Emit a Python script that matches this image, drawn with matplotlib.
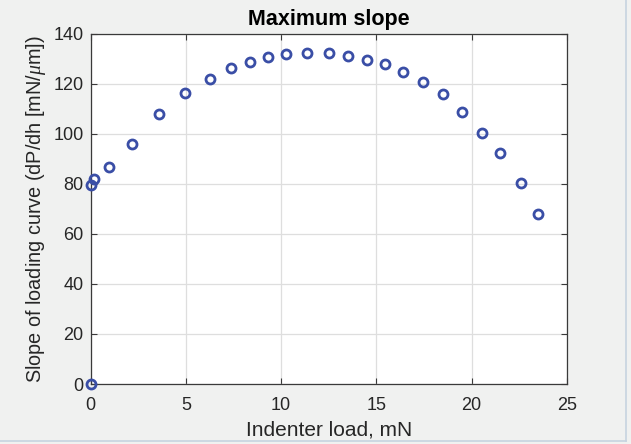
import matplotlib
matplotlib.use("Agg")
import matplotlib.pyplot as plt
from matplotlib.lines import Line2D

plt.rcParams['font.family'] = ['Liberation Sans', 'DejaVu Sans']
plt.rcParams['mathtext.fontset'] = 'custom'
plt.rcParams['mathtext.it'] = 'Liberation Serif:italic'

# Indenter load (mN) and maximum slope of the loading curve (mN/um)
load_mN = [0.0, 0.0, 0.15, 0.96, 2.15, 3.57, 4.96, 6.27, 7.37, 8.36, 9.32,
           10.28, 11.36, 12.51, 13.49, 14.52, 15.47, 16.41, 17.43, 18.50,
           19.51, 20.54, 21.50, 22.57, 23.51]
slope = [0.0, 79.3, 81.7, 86.5, 96.0, 108.0, 116.3, 121.9, 126.4, 128.7,
         130.5, 131.7, 132.1, 132.1, 131.1, 129.5, 127.7, 124.5, 120.6,
         116.0, 108.7, 100.4, 92.3, 80.4, 67.8]

x_ticks = [0, 5, 10, 15, 20, 25]
y_ticks = [0, 20, 40, 60, 80, 100, 120, 140]

bg = '#f0f1f0'
text_c = '#262626'
marker_c = '#3a4ea6'

fig = plt.figure(figsize=(6.31, 4.44), dpi=100, facecolor=bg)
ax = fig.add_axes([0.1437, 0.1351, 0.7546, 0.7894])
ax.set_facecolor('white')

ax.plot(load_mN, slope, linestyle='none', marker='o', markersize=6.5,
        markerfacecolor='none', markeredgecolor=marker_c, markeredgewidth=2.0,
        clip_on=False, zorder=5)

ax.set_xlim(0, 25)
ax.set_ylim(0, 140)
ax.set_xticks(x_ticks)
ax.set_yticks(y_ticks)
ax.grid(True, color='#dedede', linewidth=0.9)
ax.set_axisbelow(True)

for s in ax.spines.values():
    s.set_color('#3a3a3a')
    s.set_linewidth(0.9)

ax.tick_params(direction='in', length=4, width=0.8, color='#3a3a3a',
               top=True, right=True, labelsize=13, labelcolor=text_c)
ax.tick_params(axis='x', pad=9)
ax.tick_params(axis='y', pad=5)

ax.set_title('Maximum slope', fontsize=15.5, fontweight='bold', color='black', pad=6)
ax.set_xlabel('Indenter load, mN', fontsize=15, color=text_c, labelpad=5)
ax.set_ylabel(r'Slope of loading curve (dP/dh [mN/$\mu$m])', fontsize=14.3,
              color=text_c, labelpad=4)

# thin frame line along the right and bottom edges of the window
fig.add_artist(Line2D([625.5 / 631, 625.5 / 631], [3 / 444, 1.0],
                      transform=fig.transFigure, color='#c6d3e0', linewidth=1.2))
fig.add_artist(Line2D([0.0, 625.5 / 631], [3 / 444, 3 / 444],
                      transform=fig.transFigure, color='#c6d3e0', linewidth=1.2))

fig.savefig('out.png', dpi=100, facecolor=bg)
